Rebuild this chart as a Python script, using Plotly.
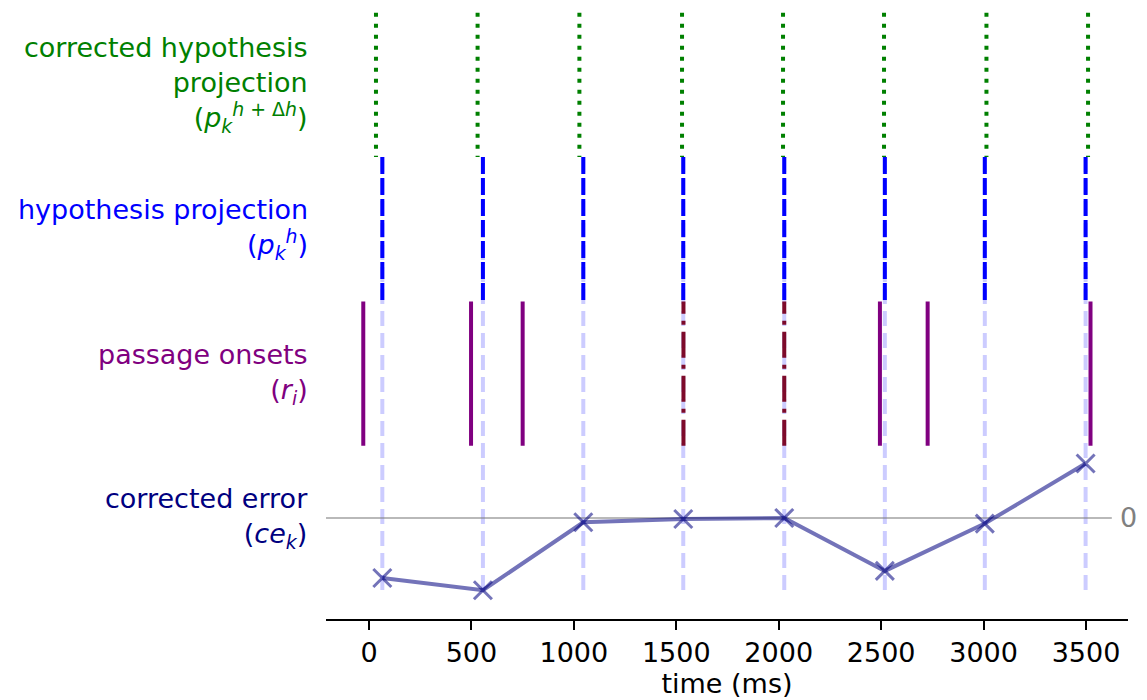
import plotly.graph_objects as go

# ---- data (ms) ----
corrected_proj = [34, 530, 1027, 1528, 2021, 2514, 3014, 3510]   # p_k^{h+Δh}
hyp_proj = [65, 556, 1046, 1534, 2027, 2518, 3006, 3498]          # p_k^h
onsets = [-28, 498, 750, 2494, 2727, 3522]                        # r_i (unmatched)
matched_onsets = [1535, 2027]                                     # r_i coinciding with p_k^h
corrected_error = [-0.416, -0.501, -0.030, -0.007, 0.0, -0.367, -0.039, 0.377]  # ce_k (normalised)
xticks = [0, 500, 1000, 1500, 2000, 2500, 3000, 3500]

# row levels
ROW_ERR, ROW_ONS, ROW_HYP, ROW_COR = 0, 1, 2, 3
FONT = "DejaVu Sans"

fig = go.Figure()

def vline(x, y0, y1, color, width, dash):
    fig.add_trace(go.Scatter(x=[x, x], y=[y0, y1], mode="lines",
                             line=dict(color=color, width=width, dash=dash),
                             hoverinfo="skip", showlegend=False))

# pale guide lines from hypothesis projections down to the error row
for x in hyp_proj:
    vline(x, ROW_HYP + 0.5, ROW_ERR - 0.5, "rgba(0,0,255,0.2)", 4, "15px,7px")

# zero line
fig.add_trace(go.Scatter(x=[-210, 3626], y=[0, 0], mode="lines",
                         line=dict(color="rgba(128,128,128,0.55)", width=2),
                         hoverinfo="skip", showlegend=False))

# passage onsets
for x in onsets:
    vline(x, ROW_ONS - 0.5, ROW_ONS + 0.5, "#800080", 4, "solid")
for x in matched_onsets:
    vline(x, ROW_ONS - 0.5, ROW_ONS + 0.5, "#7d0a2a", 4, "26px,7px,4px,7px")

# hypothesis projections
for x in hyp_proj:
    vline(x, ROW_HYP + 0.5, ROW_HYP - 0.5, "#0000ff", 4, "17px,4px")

# corrected hypothesis projections
for x in corrected_proj:
    vline(x, ROW_COR + 0.5, ROW_COR - 0.5, "#008000", 4, "4px,7px")

# corrected error
fig.add_trace(go.Scatter(x=hyp_proj, y=corrected_error, mode="lines+markers",
                         line=dict(color="rgba(0,0,128,0.55)", width=4),
                         marker=dict(symbol="x-thin", size=18,
                                     line=dict(color="rgba(0,0,128,0.55)", width=3)),
                         hoverinfo="skip", showlegend=False))

labels = [
    (ROW_COR, "corrected hypothesis<br>projection<br>(<i>p</i><sub><i>k</i></sub><sup><i>h</i> + Δ<i>h</i></sup>)", "#008000"),
    (ROW_HYP, "hypothesis projection<br>(<i>p</i><sub><i>k</i></sub><sup><i>h</i></sup>)", "#0000ff"),
    (ROW_ONS, "passage onsets<br>(<i>r</i><sub><i>i</i></sub>)", "#800080"),
    (ROW_ERR, "corrected error<br>(<i>ce</i><sub><i>k</i></sub>)", "#000080"),
]
for y, txt, col in labels:
    fig.add_annotation(x=-0.02, xref="paper", y=y, yref="y", text=txt,
                       showarrow=False, xanchor="right", yanchor="middle",
                       align="right", font=dict(family=FONT, size=27, color=col))

fig.add_annotation(x=3705, xref="x", y=0, yref="y", text="0", showarrow=False,
                   xanchor="center", yanchor="middle",
                   font=dict(family=FONT, size=27, color="#808080"))

fig.update_layout(
    width=1147, height=700,
    margin=dict(l=326, r=19, t=0, b=81, autoexpand=False),
    paper_bgcolor="white", plot_bgcolor="white",
    xaxis=dict(range=[-210, 3705], tickvals=xticks, ticktext=[str(v) for v in xticks],
               automargin=False,
               showgrid=False, zeroline=False, showline=True, linecolor="black",
               linewidth=2, ticks="outside", ticklen=9, tickwidth=2, tickcolor="black",
               tickfont=dict(family=FONT, size=27, color="black"),
               title=dict(text="time (ms)", font=dict(family=FONT, size=27, color="black"),
                          standoff=6)),
    yaxis=dict(range=[-0.7, 3.588], visible=False, showgrid=False, zeroline=False,
               automargin=False),
)

fig.write_html("out.html", config={"displayModeBar": False},
               post_script="document.body.style.margin='0';document.body.style.overflow='hidden';")
